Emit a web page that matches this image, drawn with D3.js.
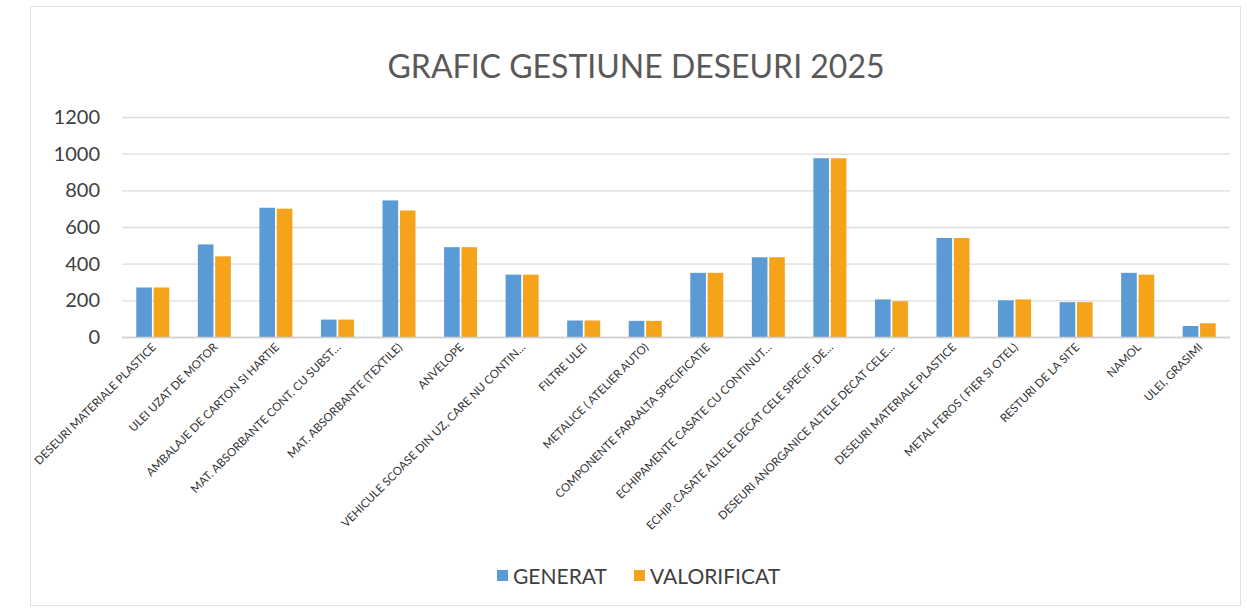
<!DOCTYPE html>
<html>
<head>
<meta charset="utf-8">
<script src="https://cdn.jsdelivr.net/npm/d3@7"></script>
<style>
  body { margin: 0; background: #fff; }
  svg { display: block; font-family: Lato, "Noto Sans", sans-serif; }
</style>
</head>
<body>
<svg width="1247" height="610"></svg>
<script>
// categories as printed on the axis (some are cut with an ellipsis in the original)
const categories = [
  "DESEURI MATERIALE PLASTICE",
  "ULEI UZAT DE MOTOR",
  "AMBALAJE DE CARTON SI HARTIE",
  "MAT. ABSORBANTE CONT. CU SUBST…",
  "MAT. ABSORBANTE (TEXTILE)",
  "ANVELOPE",
  "VEHICULE SCOASE DIN UZ, CARE NU CONTIN…",
  "FILTRE ULEI",
  "METALICE ( ATELIER AUTO)",
  "COMPONENTE FARAALTA SPECIFICATIE",
  "ECHIPAMENTE CASATE CU CONTINUT…",
  "ECHIP. CASATE ALTELE DECAT CELE SPECIF. DE…",
  "DESEURI ANORGANICE ALTELE DECAT CELE…",
  "DESEURI MATERIALE PLASTICE",
  "METAL FEROS ( FIER SI OTEL)",
  "RESTURI DE LA SITE",
  "NAMOL",
  "ULEI, GRASIMI"
];
const generat =     [270, 505, 705, 95, 745, 490, 340, 90, 88, 350, 435, 975, 205, 540, 200, 190, 350, 60];
const valorificat = [270, 440, 700, 95, 690, 490, 340, 90, 88, 350, 435, 975, 195, 540, 205, 190, 340, 75];
const seriesNames = ["GENERAT", "VALORIFICAT"];
const yTicks = [0, 200, 400, 600, 800, 1000, 1200];

const colors = { GENERAT: "#5b9bd5", VALORIFICAT: "#f5a31a" };

const svg = d3.select("svg"),
  margin = { left: 122, right: 17, top: 117, bottom: 273 },
  width = +svg.attr("width"),
  height = +svg.attr("height"),
  plotW = width - margin.left - margin.right,
  plotH = height - margin.top - margin.bottom;

// chart frame
svg.append("rect")
  .attr("x", 30.5).attr("y", 6.5)
  .attr("width", 1210).attr("height", 599)
  .attr("fill", "none").attr("stroke", "#e2e2e2");

// title
svg.append("text")
  .attr("x", 636).attr("y", 78)
  .attr("text-anchor", "middle")
  .attr("font-size", 32)
  .attr("fill", "#595959")
  .text("GRAFIC GESTIUNE DESEURI 2025");

const x = d3.scaleBand()
  .domain(d3.range(categories.length))
  .range([0, plotW]);

const xSub = d3.scaleBand()
  .domain(seriesNames)
  .range([x.bandwidth() / 2 - 16.5, x.bandwidth() / 2 + 16.5])
  .paddingInner(0.1);

const y = d3.scaleLinear()
  .domain([0, 1200])
  .range([plotH, 0]);

const g = svg.append("g")
  .attr("transform", `translate(${margin.left},${margin.top})`);

// gridlines + y labels
const yAxis = g.append("g")
  .call(d3.axisLeft(y).tickValues(yTicks).tickFormat(d3.format("d")).tickSize(-plotW).tickPadding(22));
yAxis.select(".domain").remove();
yAxis.selectAll(".tick line").attr("stroke", "#dcdcdc").attr("stroke-width", 1.3);
yAxis.selectAll(".tick text")
  .attr("font-size", 20)
  .attr("font-family", "Lato, sans-serif")
  .attr("fill", "#404040");

// bars
const data = categories.map((c, i) => ({ i, GENERAT: generat[i], VALORIFICAT: valorificat[i] }));

g.append("g")
  .selectAll("g")
  .data(data)
  .join("g")
  .attr("transform", (d) => `translate(${x(d.i)},0)`)
  .selectAll("rect")
  .data((d) => seriesNames.map((s) => ({ s, v: d[s] })))
  .join("rect")
  .attr("x", (d) => xSub(d.s))
  .attr("width", xSub.bandwidth())
  .attr("y", (d) => y(d.v))
  .attr("height", (d) => plotH - y(d.v))
  .attr("fill", (d) => colors[d.s]);

// baseline
g.append("line")
  .attr("x1", 0).attr("x2", plotW)
  .attr("y1", plotH + 0.5).attr("y2", plotH + 0.5)
  .attr("stroke", "#d0d0d0").attr("stroke-width", 1.3);

// rotated category labels
const xAxis = g.append("g")
  .attr("transform", `translate(0,${plotH})`)
  .call(d3.axisBottom(x).tickSize(0).tickFormat((i) => categories[i]));
xAxis.select(".domain").remove();
xAxis.selectAll(".tick text")
  .attr("font-size", 11.5)
  .attr("font-family", "Lato, sans-serif")
  .attr("fill", "#333")
  .attr("text-anchor", "end")
  .attr("dy", null)
  .attr("y", 0)
  .attr("transform", "translate(4,11) rotate(-45)");

// legend
const legend = svg.append("g").attr("transform", "translate(497,576)");
const legendX = { GENERAT: 0, VALORIFICAT: 137 };
seriesNames.forEach((s) => {
  const lg = legend.append("g").attr("transform", `translate(${legendX[s]},0)`);
  lg.append("rect")
    .attr("x", 0).attr("y", -6)
    .attr("width", 11).attr("height", 11)
    .attr("fill", colors[s]);
  lg.append("text")
    .attr("x", 16).attr("y", 8)
    .attr("font-size", 21)
    .attr("fill", "#404040")
    .text(s);
});
</script>
</body>
</html>
